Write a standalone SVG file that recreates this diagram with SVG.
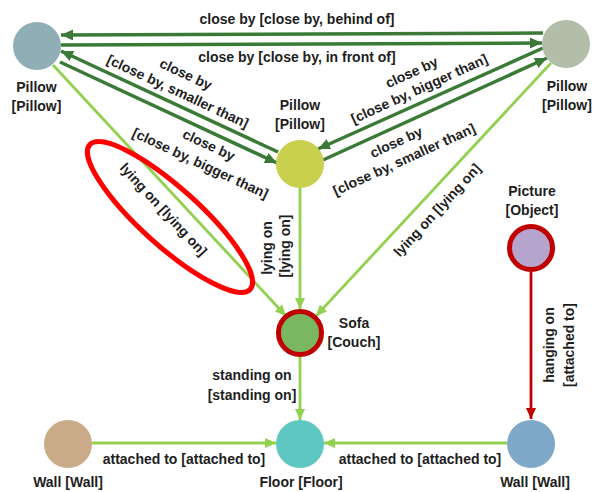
<svg xmlns="http://www.w3.org/2000/svg" width="597" height="492" viewBox="0 0 597 492">
<style>
text{font-family:"Liberation Sans",Arial,sans-serif;font-size:14px;font-weight:bold;fill:#1e1e1e;text-anchor:middle}
.dg{stroke:#3b7a36;stroke-width:3.5;fill:none}
.lg{stroke:#92d050;stroke-width:2.8;fill:none}
.rd{stroke:#c00000;stroke-width:2.8;fill:none}
.hl{stroke:#c00000;stroke-width:5}
</style>
<defs>
<marker id="adg" markerUnits="userSpaceOnUse" markerWidth="13" markerHeight="11" refX="12" refY="5.5" orient="auto"><path d="M0,0 L12,5.5 L0,11 z" fill="#3b7a36"/></marker>
<marker id="alg" markerUnits="userSpaceOnUse" markerWidth="12" markerHeight="10" refX="11" refY="5" orient="auto"><path d="M0,0 L11,5 L0,10 z" fill="#92d050"/></marker>
<marker id="ard" markerUnits="userSpaceOnUse" markerWidth="12" markerHeight="10" refX="11" refY="5" orient="auto"><path d="M0,0 L11,5 L0,10 z" fill="#c00000"/></marker>
</defs>
<g id="connectors">
<line class="dg" x1="543" y1="33" x2="61" y2="35" marker-end="url(#adg)"/>
<line class="dg" x1="61" y1="45" x2="542" y2="43" marker-end="url(#adg)"/>
<line class="dg" x1="278" y1="152" x2="61" y2="51" marker-end="url(#adg)"/>
<line class="dg" x1="60" y1="62" x2="277" y2="163" marker-end="url(#adg)"/>
<line class="dg" x1="543" y1="48" x2="318" y2="149" marker-end="url(#adg)"/>
<line class="dg" x1="323" y1="160" x2="547" y2="58" marker-end="url(#adg)"/>
<line class="lg" x1="53" y1="65" x2="286" y2="316" marker-end="url(#alg)"/>
<line class="lg" x1="300" y1="188" x2="300" y2="309" marker-end="url(#alg)"/>
<line class="lg" x1="551" y1="63" x2="316" y2="316" marker-end="url(#alg)"/>
<line class="lg" x1="300" y1="357" x2="300" y2="420" marker-end="url(#alg)"/>
<line class="lg" x1="92" y1="443" x2="276" y2="443" marker-end="url(#alg)"/>
<line class="lg" x1="507" y1="443" x2="324" y2="443" marker-end="url(#alg)"/>
<line class="rd" x1="531" y1="272" x2="531" y2="419" marker-end="url(#ard)"/>
<text x="297" y="24">close by [close by, behind of]</text>
<text x="297" y="62">close by [close by, in front of]</text>
<text transform="translate(185.9,74) rotate(25)" y="5">close by</text>
<text transform="translate(177.9,91.2) rotate(25)" y="5">[close by, smaller than]</text>
<text transform="translate(208.9,144.8) rotate(25)" y="5">close by</text>
<text transform="translate(200.5,163) rotate(25)" y="5">[close by, bigger than]</text>
<text transform="translate(411.6,72.2) rotate(-24.5)" y="5">close by</text>
<text transform="translate(419.1,88.6) rotate(-24.5)" y="5">[close by, bigger than]</text>
<text transform="translate(396.1,142) rotate(-24.5)" y="5">close by</text>
<text transform="translate(404,159.3) rotate(-24.5)" y="5">[close by, smaller than]</text>
<text transform="translate(163.6,209.3) rotate(47.1)" y="5">lying on [lying on]</text>
<text transform="translate(437,210) rotate(-47.2)" y="5">lying on [lying on]</text>
<text transform="translate(272,248) rotate(-90)">lying on</text>
<text transform="translate(290,246) rotate(-90)">[lying on]</text>
<text x="252" y="380">standing on</text>
<text x="252" y="400">[standing on]</text>
<text x="184" y="464">attached to [attached to]</text>
<text x="420" y="464">attached to [attached to]</text>
<text transform="translate(554,345) rotate(-90)">hanging on</text>
<text transform="translate(574,345) rotate(-90)">[attached to]</text>
</g>
<ellipse id="highlight" cx="170" cy="217" rx="108" ry="29" transform="rotate(42 170 217)" fill="none" stroke="#ff0000" stroke-width="5"/>
<g id="pillow-tl"><circle cx="37" cy="46" r="24" fill="#90aeb6"/><text x="36.5" y="92">Pillow</text><text x="36.5" y="111">[Pillow]</text></g>
<g id="pillow-tr"><circle cx="566" cy="44" r="24" fill="#b2bea9"/><text x="567" y="91">Pillow</text><text x="567" y="110">[Pillow]</text></g>
<g id="pillow-mid"><circle cx="300" cy="164" r="24" fill="#c8d04e"/><text x="300" y="110">Pillow</text><text x="300" y="129">[Pillow]</text></g>
<g id="sofa"><circle class="hl" cx="300" cy="333" r="21.5" fill="#79b760"/><text x="354" y="328">Sofa</text><text x="354" y="347">[Couch]</text></g>
<g id="picture"><circle class="hl" cx="531" cy="248" r="21.5" fill="#b5a4cc"/><text x="532" y="196">Picture</text><text x="532" y="215">[Object]</text></g>
<g id="floor"><circle cx="300" cy="444" r="24" fill="#5fc7c2"/><text x="301" y="487">Floor [Floor]</text></g>
<g id="wall-left"><circle cx="68" cy="444" r="24" fill="#c9aa89"/><text x="68" y="487">Wall [Wall]</text></g>
<g id="wall-right"><circle cx="531" cy="444" r="24" fill="#7ea8c8"/><text x="535" y="487">Wall [Wall]</text></g>
</svg>
